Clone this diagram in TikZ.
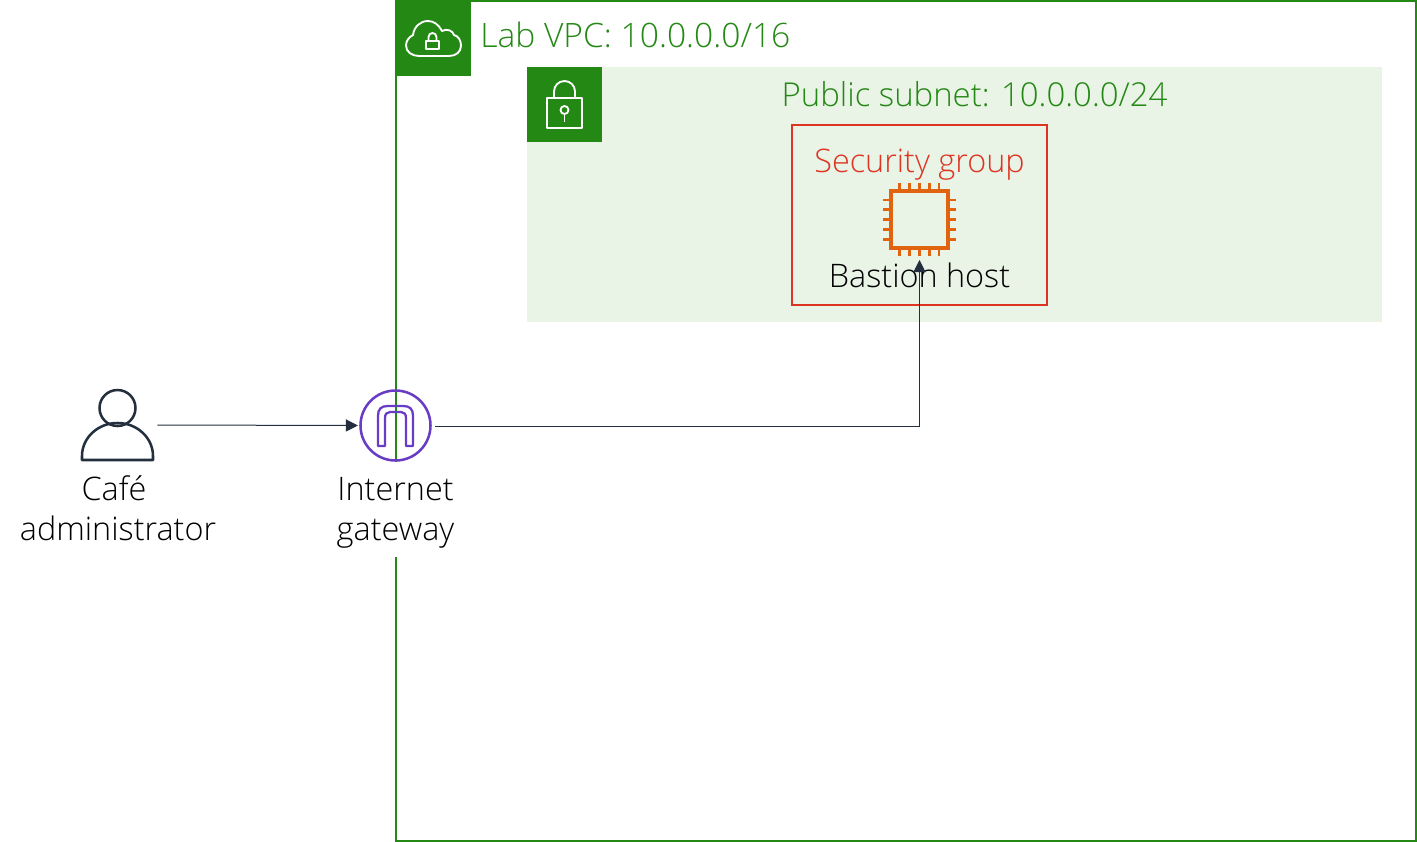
\documentclass[tikz,border=0pt]{standalone}
\usepackage{fontspec}
\setmainfont{Open Sans}[UprightFont=* Light]
\usetikzlibrary{arrows.meta}
\definecolor{awsgreen}{HTML}{248814}
\definecolor{subnetbg}{HTML}{E9F3E6}
\definecolor{sgred}{HTML}{DD3522}
\definecolor{chiporange}{HTML}{E0640F}
\definecolor{igwpurple}{HTML}{693CC5}
\definecolor{awsdark}{HTML}{232F3E}
\tikzset{
  lbl/.style={font=\fontsize{24.3}{30}\selectfont,inner sep=0pt,align=center},
  tab/.style={fill=awsgreen,draw=none},
  icn/.style={draw=white,line width=1.4pt,line join=round},
  pin/.style={chiporange,line width=2.1pt},
  flow/.style={draw=awsdark,line width=0.75pt,-{Triangle[length=9pt,width=9pt]}}
}
\begin{document}
\begin{tikzpicture}[x=0.75pt,y=-0.75pt]
\useasboundingbox (0,0) rectangle (1417,842);
% groups
\draw[awsgreen,line width=1.5pt] (396,1) rectangle (1416,841);
\fill[tab] (396,0) rectangle (471,76);
\fill[subnetbg] (527,67) rectangle (1382,322);
\fill[tab] (527,67) rectangle (602,142);
\draw[sgred,line width=1.5pt] (792,125) rectangle (1047,305);
% cloud
\draw[icn] (419,56) -- (449,56) .. controls (456,56) and (461,52) .. (461,45.5)
  .. controls (461,40) and (458,36) .. (454,35) .. controls (453,31) and (447,28) .. (442,31)
  .. controls (439,25) and (434,21) .. (428,21) .. controls (420,21) and (414,27) .. (413,35)
  .. controls (409,37) and (406,41) .. (406,45.5) .. controls (406,52) and (412,56) .. (419,56) -- cycle;
\draw[icn] (426,41) rectangle (439,49);
\draw[icn] (428.5,41) -- (428.5,37) arc (180:360:4) -- (436.5,41);
% padlock
\draw[icn] (547,98) rectangle (582,128);
\draw[icn] (554,98) -- (554,91.5) arc (180:360:10.5) -- (575,98);
\draw[icn] (564.5,110) circle (4);
\draw[icn] (564.5,114) -- (564.5,122);
% chip
\node[draw=chiporange,line width=2.4pt,minimum size=42.75pt,inner sep=0pt] (chipbox) at (919.5,219.5) {};
\foreach \i in {0,...,4}{
  \draw[pin] (899.7+9.8*\i,183) -- (899.7+9.8*\i,191);
  \draw[pin] (899.7+9.8*\i,248) -- (899.7+9.8*\i,256);
  \draw[pin] (883,200+9.8*\i) -- (891,200+9.8*\i);
  \draw[pin] (948,200+9.8*\i) -- (956,200+9.8*\i);
}
\coordinate (chiptip) at (919.5,260);
% texts
\node[lbl,anchor=base west,text=awsgreen,font=\fontsize{25.2}{30}\selectfont] (vpclbl) at (480,48) {Lab VPC: 10.0.0.0/16};
\node[lbl,anchor=base,text=awsgreen,font=\fontsize{24.7}{30}\selectfont] (subnetlbl) at (974.5,107) {Public subnet: 10.0.0.0/24};
\node[lbl,anchor=base,text=sgred] (sglbl) at (919.5,172) {Security group};
\node[lbl,anchor=base,text=black] (hostlbl) at (919.5,287) {Bastion host};
\fill[white] (380,462) rectangle (411,557);
\node[lbl,anchor=north] (igwlbl) at (395.5,477) {Internet\\gateway};
\node[lbl,anchor=north] (adminlbl) at (118,475) {Café\kern6pt\\administrator};
% admin
\node[minimum width=58.5pt,minimum height=52.5pt,inner sep=0pt] (admin) at (118,425) {};
\draw[awsdark,line width=1.9pt] (117.5,408) circle (18);
\draw[awsdark,line width=1.9pt,line join=round] (82,460) -- (82,456) arc (180:360:35.5 and 33) -- (153,460) -- cycle;
% gateway
\node[circle,draw=igwpurple,line width=1.9pt,minimum size=52.5pt,inner sep=0pt,outer sep=1.9pt] (igw) at (395.5,425.5) {};
\draw[igwpurple,line width=1.7pt,line join=round] (378,446) -- (378,416) .. controls (378,409) and (381,406) .. (388,406)
  -- (403,406) .. controls (410,406) and (413,409) .. (413,416) -- (413,446) -- (406,446) -- (406,418)
  .. controls (406,414) and (404,412) .. (401,412) -- (390,412) .. controls (387,412) and (385,414) .. (385,418) -- (385,446) -- cycle;
% connectors
\draw[flow] (admin.east) -- (igw.west);
\draw[flow] ([shift={(1.5pt,-1pt)}]igw.east) -| (chiptip);
\end{tikzpicture}
\end{document}
